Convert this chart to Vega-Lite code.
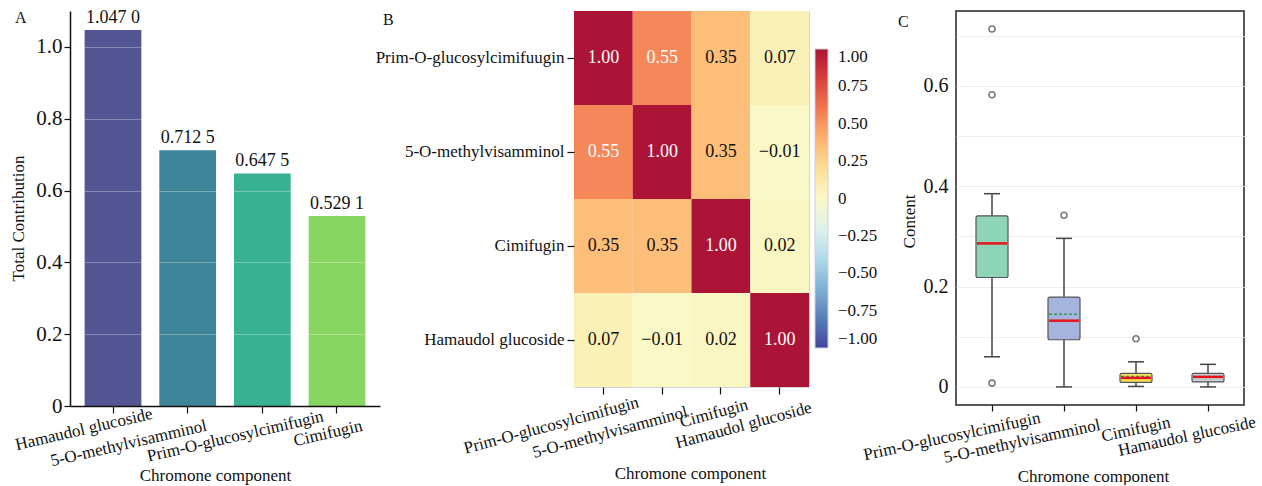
{
  "$schema": "https://vega.github.io/schema/vega-lite/v6.json",
  "background": "white",
  "padding": {"left": 9, "top": 9, "right": 0, "bottom": 0},
  "config": {
    "font": "Liberation Serif",
    "view": {"stroke": null},
    "axis": {"labelFont": "Liberation Serif", "titleFont": "Liberation Serif", "labelColor": "#111", "titleColor": "#111", "titleFontWeight": "normal", "domainColor": "#111", "tickColor": "#111", "grid": false, "labelFontSize": 17, "titleFontSize": 17, "labelLimit": 400},
    "style": {"guide-title": {"font": "Liberation Serif", "fontWeight": "normal"}, "guide-label": {"font": "Liberation Serif"}},
    "title": {"font": "Liberation Serif", "fontWeight": "normal", "fontSize": 16, "color": "#111"},
    "legend": {"labelFont": "Liberation Serif", "labelColor": "#111"}
  },
  "datasets": {
    "contrib": [
      {"component": "Hamaudol glucoside", "total": 1.047, "label": "1.047 0"},
      {"component": "5-O-methylvisamminol", "total": 0.7125, "label": "0.712 5"},
      {"component": "Prim-O-glucosylcimifugin", "total": 0.6475, "label": "0.647 5"},
      {"component": "Cimifugin", "total": 0.5291, "label": "0.529 1"}
    ],
    "corr": [
      {"row": "Prim-O-glucosylcimifuugin", "col": "Prim-O-glucosylcimifugin", "r": 1.0},
      {"row": "Prim-O-glucosylcimifuugin", "col": "5-O-methylvisamminol", "r": 0.55},
      {"row": "Prim-O-glucosylcimifuugin", "col": "Cimifugin", "r": 0.35},
      {"row": "Prim-O-glucosylcimifuugin", "col": "Hamaudol glucoside", "r": 0.07},
      {"row": "5-O-methylvisamminol", "col": "Prim-O-glucosylcimifugin", "r": 0.55},
      {"row": "5-O-methylvisamminol", "col": "5-O-methylvisamminol", "r": 1.0},
      {"row": "5-O-methylvisamminol", "col": "Cimifugin", "r": 0.35},
      {"row": "5-O-methylvisamminol", "col": "Hamaudol glucoside", "r": -0.01},
      {"row": "Cimifugin", "col": "Prim-O-glucosylcimifugin", "r": 0.35},
      {"row": "Cimifugin", "col": "5-O-methylvisamminol", "r": 0.35},
      {"row": "Cimifugin", "col": "Cimifugin", "r": 1.0},
      {"row": "Cimifugin", "col": "Hamaudol glucoside", "r": 0.02},
      {"row": "Hamaudol glucoside", "col": "Prim-O-glucosylcimifugin", "r": 0.07},
      {"row": "Hamaudol glucoside", "col": "5-O-methylvisamminol", "r": -0.01},
      {"row": "Hamaudol glucoside", "col": "Cimifugin", "r": 0.02},
      {"row": "Hamaudol glucoside", "col": "Hamaudol glucoside", "r": 1.0}
    ],
    "boxes": [
      {"component": "Prim-O-glucosylcimifugin", "lower": 0.060, "q1": 0.218, "median": 0.286, "q3": 0.341, "upper": 0.385, "mean": 0.286},
      {"component": "5-O-methylvisamminol", "lower": 0.0, "q1": 0.094, "median": 0.132, "q3": 0.179, "upper": 0.296, "mean": 0.145},
      {"component": "Cimifugin", "lower": 0.001, "q1": 0.009, "median": 0.018, "q3": 0.027, "upper": 0.050, "mean": 0.021},
      {"component": "Hamaudol glucoside", "lower": 0.0, "q1": 0.010, "median": 0.020, "q3": 0.027, "upper": 0.045, "mean": 0.021}
    ],
    "outliers": [
      {"component": "Prim-O-glucosylcimifugin", "value": 0.713},
      {"component": "Prim-O-glucosylcimifugin", "value": 0.582},
      {"component": "Prim-O-glucosylcimifugin", "value": 0.0075},
      {"component": "5-O-methylvisamminol", "value": 0.342},
      {"component": "Cimifugin", "value": 0.096}
    ]
  },
  "spacing": 194,
  "bounds": "flush",
  "hconcat": [
    {
      "width": 310,
      "height": 395,
      "title": {"text": "A", "anchor": "start", "frame": "group", "offset": -30, "dx": -55, "baseline": "alphabetic"},
      "data": {"name": "contrib"},
      "encoding": {
        "x": {
          "field": "component", "type": "nominal", "sort": null,
          "scale": {"paddingInner": 0.24, "paddingOuter": 0.196},
          "axis": {
            "title": "Chromone component", "titleFont": "Liberation Serif", "titleFontSize": 17, "labelFont": "Liberation Serif",
            "labelAngle": -13, "labelAlign": "center", "labelBaseline": "middle",
            "tickSize": 7, "tickWidth": 1.2, "domainWidth": 1.5,
            "labelOffset": {"expr": "[-29,-59,-27,-9][indexof(['Hamaudol glucoside','5-O-methylvisamminol','Prim-O-glucosylcimifugin','Cimifugin'], datum.value)]"},
            "labelPadding": {"expr": "[16,30,23,20][indexof(['Hamaudol glucoside','5-O-methylvisamminol','Prim-O-glucosylcimifugin','Cimifugin'], datum.value)]"},
            "labelOverlap": false, "labelBound": false, "labelFlush": false,
            "titleX": 145, "titleY": 74, "titleBaseline": "alphabetic", "titleAlign": "center", "zindex": 1
          }
        },
        "y": {
          "field": "total", "type": "quantitative",
          "scale": {"domain": [0, 1.1], "nice": false},
          "axis": {
            "title": "Total Contribution", "titleFont": "Liberation Serif", "titleFontSize": 17, "labelFont": "Liberation Serif",
            "values": [0, 0.2, 0.4, 0.6, 0.8, 1.0],
            "labelExpr": "datum.value == 0 ? '0' : format(datum.value, '.1f')",
            "labelFontSize": 21, "tickSize": 6, "tickWidth": 1.2, "labelPadding": 2, "domainWidth": 1.5,
            "grid": true, "gridColor": "white", "gridOpacity": 0.3, "gridWidth": 1.2,
            "titleX": -52, "titleY": 207, "titleBaseline": "middle", "titleAlign": "center", "zindex": 1
          }
        }
      },
      "layer": [
        {
          "mark": {"type": "bar", "opacity": 0.9},
          "encoding": {
            "color": {
              "field": "component", "type": "nominal", "legend": null,
              "scale": {"domain": ["Hamaudol glucoside", "5-O-methylvisamminol", "Prim-O-glucosylcimifugin", "Cimifugin"], "range": ["#414487", "#2a788e", "#22a884", "#7ad151"]}
            }
          }
        },
        {
          "mark": {"type": "text", "baseline": "bottom", "dy": -3, "fontSize": 18, "color": "#111", "font": "Liberation Serif"},
          "encoding": {"text": {"field": "label"}}
        }
      ]
    },
    {
      "spacing": 147,
      "bounds": "flush",
      "hconcat": [
        {
          "width": 235,
          "height": 376,
          "title": {"text": "B", "anchor": "start", "frame": "group", "offset": -30, "dx": -191, "baseline": "alphabetic"},
          "data": {"name": "corr"},
          "view": {"stroke": "#d4d4d4", "strokeWidth": 1},
          "encoding": {
            "x": {
              "field": "col", "type": "nominal",
              "sort": ["Prim-O-glucosylcimifugin", "5-O-methylvisamminol", "Cimifugin", "Hamaudol glucoside"],
              "scale": {"paddingInner": 0, "paddingOuter": 0},
              "axis": {
                "title": "Chromone component", "titleFont": "Liberation Serif", "titleFontSize": 17, "labelFont": "Liberation Serif",
                "labelAngle": -15, "labelAlign": "center", "labelBaseline": "middle",
                "domain": false, "tickSize": 7, "tickWidth": 1.2,
                "labelOffset": {"expr": "[-52,-52,-7,-36][indexof(['Prim-O-glucosylcimifugin','5-O-methylvisamminol','Cimifugin','Hamaudol glucoside'], datum.value)]"},
                "labelPadding": {"expr": "[31,38,19,31][indexof(['Prim-O-glucosylcimifugin','5-O-methylvisamminol','Cimifugin','Hamaudol glucoside'], datum.value)]"},
                "labelOverlap": false, "labelBound": false, "labelFlush": false,
                "titleX": 116, "titleY": 91, "titleBaseline": "alphabetic", "titleAlign": "center"
              }
            },
            "y": {
              "field": "row", "type": "nominal",
              "sort": ["Prim-O-glucosylcimifuugin", "5-O-methylvisamminol", "Cimifugin", "Hamaudol glucoside"],
              "scale": {"paddingInner": 0, "paddingOuter": 0},
              "axis": {"title": null, "labelFont": "Liberation Serif", "domain": false, "tickSize": 7, "tickWidth": 1.2, "labelPadding": 3, "labelOverlap": false}
            }
          },
          "layer": [
            {
              "mark": {"type": "rect", "opacity": 0.92},
              "encoding": {
                "color": {
                  "field": "r", "type": "quantitative",
                  "scale": {"scheme": "redyellowblue", "reverse": true, "domain": [-1, 1]},
                  "legend": {
                    "title": null, "orient": "none", "legendX": 241, "legendY": 38, "direction": "vertical",
                    "gradientLength": 299, "gradientThickness": 13,
                    "values": [1, 0.75, 0.5, 0.25, 0, -0.25, -0.5, -0.75, -1],
                    "labelExpr": "datum.value == 0 ? '0' : format(datum.value, '.2f')",
                    "labelFont": "Liberation Serif", "labelFontSize": 17, "labelOffset": 10, "labelBaseline": "middle",
                    "gradientStrokeColor": "#cccccc", "gradientStrokeWidth": 1
                  }
                }
              }
            },
            {
              "mark": {"type": "text", "fontSize": 18, "font": "Liberation Serif"},
              "encoding": {
                "text": {"field": "r", "type": "quantitative", "format": ".2f"},
                "color": {"condition": {"test": "datum.r >= 0.5", "value": "white"}, "value": "#111"}
              }
            }
          ]
        },
        {
          "width": 288,
          "height": 394,
          "title": {"text": "C", "anchor": "start", "frame": "group", "offset": -32, "dx": -58, "baseline": "alphabetic"},
          "view": {"stroke": "#222", "strokeWidth": 1.5},
          "encoding": {
            "x": {
              "field": "component", "type": "nominal",
              "sort": ["Prim-O-glucosylcimifugin", "5-O-methylvisamminol", "Cimifugin", "Hamaudol glucoside"],
              "scale": {"domain": ["Prim-O-glucosylcimifugin", "5-O-methylvisamminol", "Cimifugin", "Hamaudol glucoside"], "paddingInner": 0, "paddingOuter": 0},
              "axis": {
                "title": "Chromone component", "titleFont": "Liberation Serif", "titleFontSize": 17, "labelFont": "Liberation Serif",
                "labelAngle": -12, "labelAlign": "center", "labelBaseline": "middle",
                "domain": false, "tickSize": 6, "tickWidth": 1.2,
                "labelOffset": {"expr": "[-40,-42,0,-21][indexof(['Prim-O-glucosylcimifugin','5-O-methylvisamminol','Cimifugin','Hamaudol glucoside'], datum.value)]"},
                "labelPadding": {"expr": "[25,30,18,25][indexof(['Prim-O-glucosylcimifugin','5-O-methylvisamminol','Cimifugin','Hamaudol glucoside'], datum.value)]"},
                "labelOverlap": false, "labelBound": false, "labelFlush": false,
                "titleX": 137, "titleY": 76, "titleBaseline": "alphabetic", "titleAlign": "center"
              }
            }
          },
          "layer": [
            {
              "data": {"name": "boxes"},
              "mark": {"type": "rule", "color": "#444", "strokeWidth": 1.5},
              "encoding": {
                "y": {
                  "field": "lower", "type": "quantitative", "title": "Content",
                  "scale": {"domain": [-0.036, 0.749], "nice": false, "zero": false},
                  "axis": {
                    "titleFont": "Liberation Serif", "titleFontSize": 17, "labelFont": "Liberation Serif",
                    "values": [0, 0.1, 0.2, 0.3, 0.4, 0.5, 0.6, 0.7],
                    "labelExpr": "datum.value == 0 ? '0' : (round(datum.value * 10) % 2 == 0 ? format(datum.value, '.1f') : '')",
                    "labelFontSize": 20, "ticks": false, "labelPadding": 8, "domain": false,
                    "grid": true, "gridColor": "#efefef", "gridWidth": 1,
                    "titleX": -47, "titleY": 210, "titleBaseline": "middle", "titleAlign": "center"
                  }
                },
                "y2": {"field": "upper"}
              }
            },
            {
              "data": {"name": "boxes"},
              "mark": {"type": "rule", "color": "#444", "strokeWidth": 1.5, "xOffset": -8, "x2Offset": 8},
              "encoding": {
                "x2": {"field": "component"},
                "y": {"field": "lower", "type": "quantitative", "title": "Content"}
              }
            },
            {
              "data": {"name": "boxes"},
              "mark": {"type": "rule", "color": "#444", "strokeWidth": 1.5, "xOffset": -8, "x2Offset": 8},
              "encoding": {
                "x2": {"field": "component"},
                "y": {"field": "upper", "type": "quantitative", "title": "Content"}
              }
            },
            {
              "data": {"name": "boxes"},
              "mark": {"type": "bar", "size": 32, "stroke": "#555", "strokeWidth": 1.2, "cornerRadius": 2, "opacity": 1},
              "encoding": {
                "y": {"field": "q1", "type": "quantitative", "title": "Content"},
                "y2": {"field": "q3"},
                "color": {
                  "field": "component", "type": "nominal", "legend": null,
                  "scale": {"domain": ["Prim-O-glucosylcimifugin", "5-O-methylvisamminol", "Cimifugin", "Hamaudol glucoside"], "range": ["#8ed4b7", "#a5b4dc", "#f3df56", "#c7d0d6"]}
                }
              }
            },
            {
              "data": {"name": "boxes"},
              "mark": {"type": "rule", "color": "#3a9a5a", "strokeWidth": 1.5, "strokeDash": [3, 2], "xOffset": -15, "x2Offset": 15},
              "encoding": {
                "x2": {"field": "component"},
                "y": {"field": "mean", "type": "quantitative", "title": "Content"}
              }
            },
            {
              "data": {"name": "boxes"},
              "mark": {"type": "rule", "color": "#e8141c", "strokeWidth": 2.5, "xOffset": -15, "x2Offset": 15},
              "encoding": {
                "x2": {"field": "component"},
                "y": {"field": "median", "type": "quantitative", "title": "Content"}
              }
            },
            {
              "data": {"name": "outliers"},
              "mark": {"type": "point", "shape": "circle", "filled": false, "size": 36, "stroke": "#444", "strokeWidth": 1.6},
              "encoding": {
                "y": {"field": "value", "type": "quantitative", "title": "Content"}
              }
            }
          ]
        }
      ]
    }
  ]
}
